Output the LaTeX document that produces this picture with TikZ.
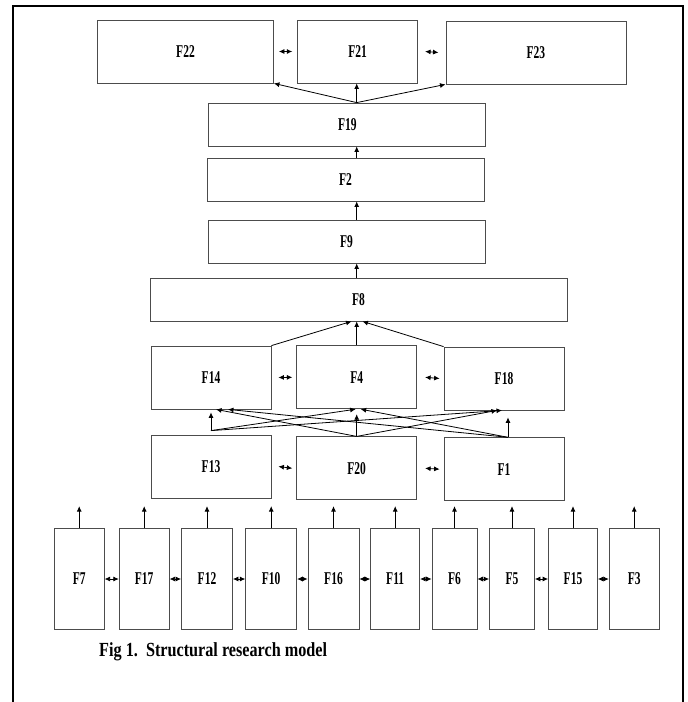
\documentclass[tikz,border=0pt]{standalone}
\usepackage{fontspec}
\setmainfont{Liberation Serif}
\newfontfamily\lblfont[FakeStretch=0.64]{Liberation Serif}
\newfontfamily\capfont[FakeStretch=0.81]{Liberation Serif}
\usetikzlibrary{arrows.meta}

\begin{document}
\begin{tikzpicture}[x=1pt,y=-1pt,>={Latex[length=5.5pt,width=5pt]},
    box/.style={draw=black!70,line width=0.8pt,inner sep=0pt,font=\lblfont\bfseries\fontsize{18}{20}\selectfont},
    tall/.style={box,minimum height=101},
    link/.style={->,line width=0.8pt},
    both/.style={<->,line width=0.8pt}]
  \useasboundingbox (0,0) rectangle (688,702);
  \draw[line width=2.6pt] (13,702) |- (683,6) -- (683,702);
  % top row
  \node[box,minimum width=176,minimum height=63] (f22) at (185.5,51.5) {F22};
  \node[box,minimum width=120,minimum height=63] (f21) at (357.7,51.5) {F21};
  \node[box,minimum width=180,minimum height=63] (f23) at (535.9,52.5) {F23};
  % middle column
  \node[box,minimum width=277,minimum height=43] (f19) at (347.3,124.5) {F19};
  \node[box,minimum width=277,minimum height=43] (f2) at (345.5,179.5) {F2};
  \node[box,minimum width=277,minimum height=43] (f9) at (346.5,241.5) {F9};
  \node[box,minimum width=417,minimum height=43] (f8) at (358.5,299.5) {F8};
  \node[box,minimum width=120,minimum height=63] (f14) at (211,377.5) {F14};
  \node[box,minimum width=120,minimum height=63] (f4) at (356.7,377.3) {F4};
  \node[box,minimum width=120,minimum height=63] (f18) at (504,378.5) {F18};
  \node[box,minimum width=120,minimum height=63] (f13) at (211,466.5) {F13};
  \node[box,minimum width=120,minimum height=63] (f20) at (356.7,468.3) {F20};
  \node[box,minimum width=120,minimum height=63] (f1) at (504,469.2) {F1};
  % bottom row
  \foreach \n/\x/\w in {7/79.2/50,17/144.2/50,12/207/51,10/271.2/51,16/333.5/51,
      11/395.2/49,6/454.5/45,5/512/45,15/573/49,3/634.2/50}
    \node[tall,minimum width=\w] (f\n) at (\x,579) {F\n};
  \foreach \n in {7,17,12,10,16,11,6,5,15,3}
    \draw[link] (f\n.north) -- ++(0,-22);
  \foreach \a/\b in {7/17,17/12,12/10,10/16,16/11,11/6,6/5,5/15,15/3}
    \draw[both] (f\a.east) -- (f\b.west);
  % side links
  \draw[both] ([xshift=5pt]f22.east) -- ([xshift=-5pt]f21.west);
  \draw[both] ([xshift=7pt]f21.east) -- ([xshift=-7pt]f23.west);
  \draw[both] ([xshift=7pt]f14.east) -- ([xshift=-4pt]f4.west);
  \draw[both] ([xshift=8pt]f4.east) -- ([xshift=-4pt]f18.west);
  \draw[both] ([xshift=7pt]f13.east) -- ([xshift=-4pt]f20.west);
  \draw[both] ([xshift=8pt]f20.east) -- ([xshift=-4pt]f1.west);
  % crossing links
  \draw[link] ([yshift=4pt]f13.north) -- ([yshift=-3pt]f14.south);
  \draw[link] ([yshift=4pt]f13.north) -- ([xshift=-1pt]f4.south);
  \draw[link] ([yshift=4pt]f13.north) -- ([xshift=-2pt]f18.south);
  \draw[link] (f20.north) -- ([yshift=-5pt]f4.south);
  \draw[link] (f20.north) -- ([xshift=5pt]f14.south);
  \draw[link] (f20.north) -- ([xshift=-7pt]f18.south);
  \draw[link] ([xshift=4pt]f1.north) -- ([xshift=4pt,yshift=-7pt]f18.south);
  \draw[link] ([xshift=4pt]f1.north) -- ([xshift=17pt]f14.south);
  \draw[link] ([xshift=4pt]f1.north) -- ([xshift=4pt]f4.south);
  % upward chain
  \draw[link] (f14.north east) -- ([xshift=-7pt]f8.south);
  \draw[link] (f4.north) -- (f4.north |- f8.south);
  \draw[link] (f18.north west) -- ([xshift=4pt]f8.south);
  \draw[link] (f8.north -| f4) -- (f9.south -| f4);
  \draw[link] (f9.north -| f4) -- (f2.south -| f4);
  \draw[link] (f2.north -| f4) -- (f19.south -| f4);
  \coordinate (hub) at (f19.north -| f4);
  \draw[link] (hub) -- (f22.south east);
  \draw[link] (hub) -- (f21.south -| hub);
  \draw[link] (hub) -- (f23.south west);
  \node[anchor=base west,inner sep=0pt,font=\capfont\bfseries\fontsize{20}{22}\selectfont] (cap) at (99,656.5) {Fig 1.\ \ Structural research model};
\end{tikzpicture}
\end{document}
